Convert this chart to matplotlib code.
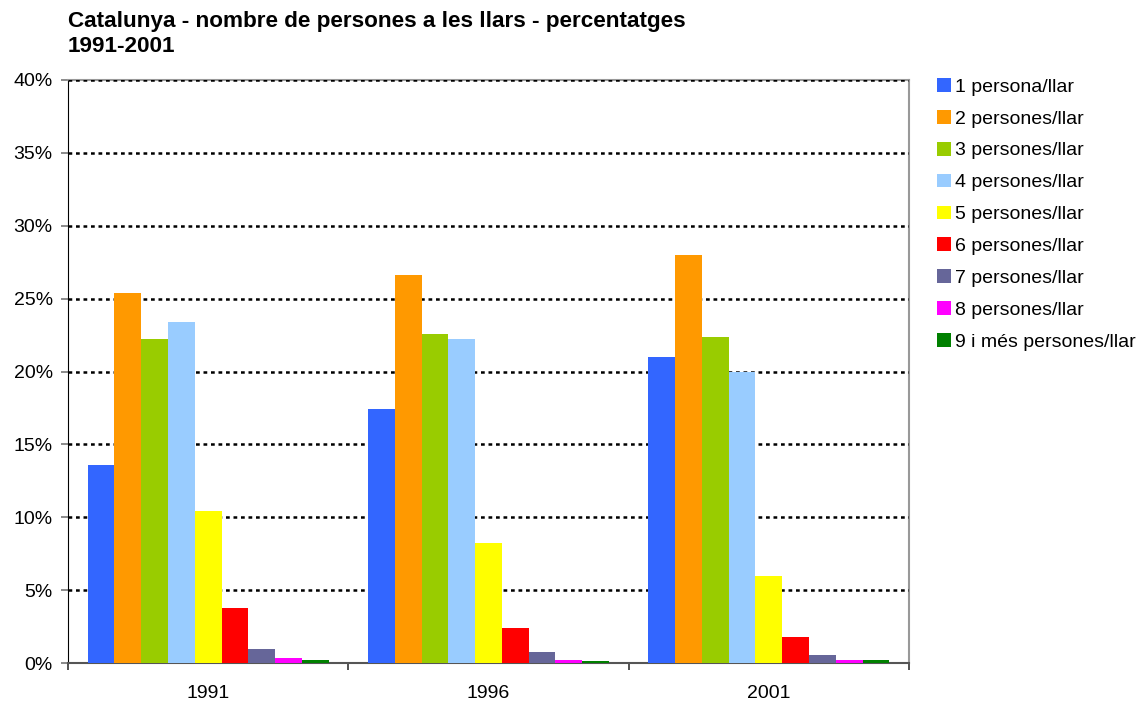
import numpy as np
import matplotlib
matplotlib.use("Agg")
import matplotlib.pyplot as plt
from matplotlib.ticker import FuncFormatter

plt.rcParams['font.family'] = ['Liberation Sans', 'DejaVu Sans']

years = ['1991', '1996', '2001']
labels = ['1 persona/llar', '2 persones/llar', '3 persones/llar', '4 persones/llar',
          '5 persones/llar', '6 persones/llar', '7 persones/llar', '8 persones/llar',
          '9 i més persones/llar']
colors = ['#3366ff', '#ff9900', '#99cc00', '#99ccff', '#ffff00', '#ff0000',
          '#666699', '#ff00ff', '#008000']

# percentages per household size, for 1991 / 1996 / 2001
p1 = [13.6, 17.4, 21.0]
p2 = [25.4, 26.6, 28.0]
p3 = [22.2, 22.6, 22.4]
p4 = [23.4, 22.2, 20.0]
p5 = [10.4, 8.2, 6.0]
p6 = [3.8, 2.4, 1.8]
p7 = [0.95, 0.75, 0.55]
p8 = [0.35, 0.22, 0.2]
p9 = [0.2, 0.13, 0.2]
series = [p1, p2, p3, p4, p5, p6, p7, p8, p9]

fig = plt.figure(figsize=(11.42, 7.02), dpi=100)
ax = fig.add_axes([68 / 1142, 1 - 663 / 702, (909 - 68) / 1142, (663 - 80) / 702])

x = np.arange(len(years))
n = len(series)
group = 0.86
w = group / n
for i, s in enumerate(series):
    ax.bar(x - group / 2 + w * (i + 0.5), s, width=w, color=colors[i],
           label=labels[i], zorder=3, linewidth=0)

ax.set_xlim(-0.5, 2.5)
ax.set_ylim(0, 40)
yt = np.arange(0, 41, 5)
ax.set_yticks(yt)
ax.yaxis.set_major_formatter(FuncFormatter(lambda v, p: f'{int(v)}%'))
for v in yt[1:]:
    ax.axhline(v, color='black', linestyle=(0, (1.5, 1.5)), linewidth=1.8, zorder=2.7)
ax.set_xticks(x)
ax.set_xticklabels(years)
ax.set_xticks([-0.5, 0.5, 1.5, 2.5], minor=True)
ax.tick_params(axis='x', which='major', length=0, pad=16, labelsize=14)
ax.tick_params(axis='x', which='minor', length=5, direction='out', width=1.2, color='#333333')
ax.tick_params(axis='y', length=5, direction='out', width=1.2, color='#777777',
               labelsize=14, pad=6)

ax.spines['top'].set_color('#999999')
ax.spines['right'].set_color('#999999')
ax.spines['top'].set_linewidth(1.5)
ax.spines['right'].set_linewidth(1.5)
ax.spines['left'].set_color('black')
ax.spines['bottom'].set_color('#555555')
ax.spines['bottom'].set_linewidth(1.5)

fig.text(68 / 1142, 1 - 34 / 702, 'Catalunya - nombre de persones a les llars - percentatges\n1991-2001',
         fontsize=16.2, fontweight='bold', va='center', ha='left', linespacing=1.25)

ax.legend(loc='upper left', bbox_to_anchor=(1.024, 1.017), frameon=False, fontsize=14,
          handlelength=0.72, handleheight=0.72, handletextpad=0.2, labelspacing=0.73,
          borderaxespad=0)

fig.savefig('out.png', dpi=100)
